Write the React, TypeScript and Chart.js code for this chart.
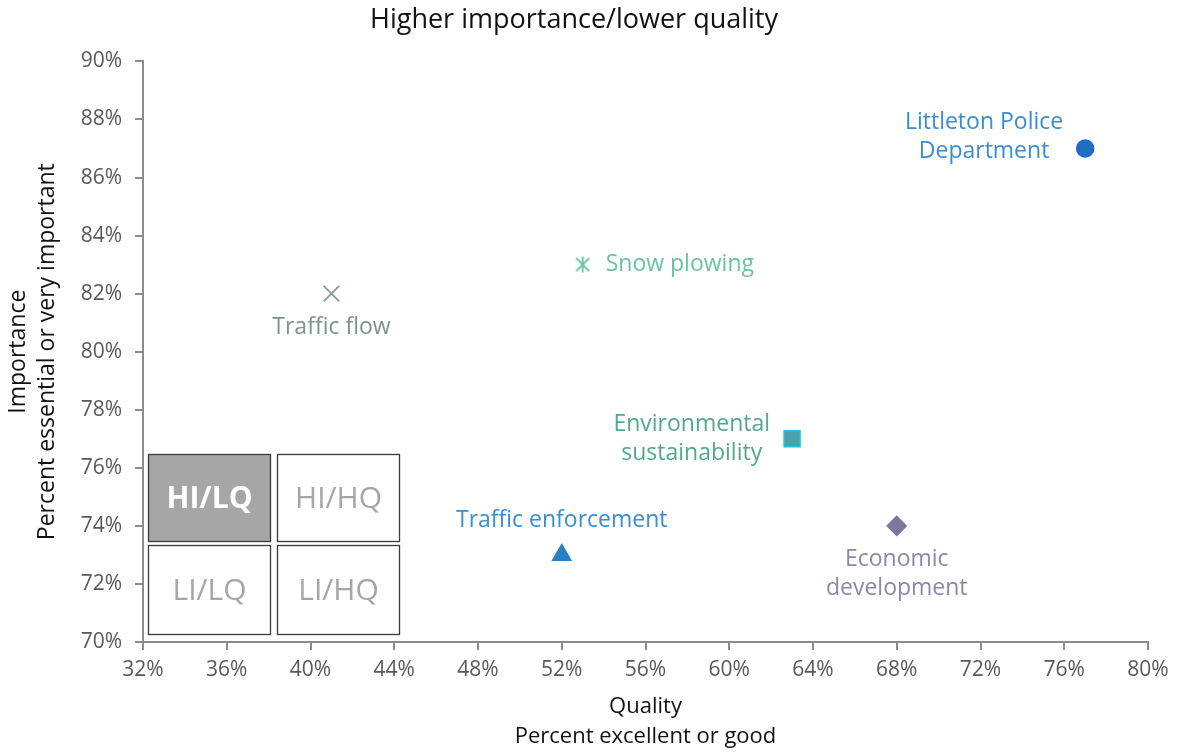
import React, { useEffect, useRef } from "react";
import { Chart, registerables } from "chart.js";

Chart.register(...registerables);

const services = [
  "Littleton Police Department",
  "Snow plowing",
  "Traffic flow",
  "Environmental sustainability",
  "Traffic enforcement",
  "Economic development",
];
const labelLines = [
  ["Littleton Police", "Department"],
  ["Snow plowing"],
  ["Traffic flow"],
  ["Environmental", "sustainability"],
  ["Traffic enforcement"],
  ["Economic", "development"],
];
const quality = [77, 53, 41, 63, 52, 68];
const importance = [87, 83, 82, 77, 73, 74];

const xTicksMin = 32;
const xTicksMax = 80;
const xStep = 4;
const yTicksMin = 70;
const yTicksMax = 90;
const yStep = 2;

const quadrantLabels = ["HI/LQ", "HI/HQ", "LI/LQ", "LI/HQ"];

// styles
const markerStyles = ["circle", "asterisk", "crossRot", "rect", "triangle", "rectRot"];
const markerRadius = [8.5, 9, 11, 11.3, 10.5, 9.5];
const fillColors = ["#1F6EC0", "#6CC3A2", "#8A9C9C", "#4DA1A9", "#2A7FC5", "#7B789E"];
const strokeColors = ["#1A64E6", "#6CC3A2", "#8A9C9C", "#22C2DA", "#2A7FC5", "#7B789E"];
const labelColors = ["#3A8ED0", "#6CC3A2", "#7D9393", "#52A88A", "#3A8ED0", "#8C88AA"];
const labelPlacement = ["left", "right", "below", "left", "above", "below"];
const labelDy = [-12, 0, 0, 0, 0, 0];

const FONT = "'Open Sans', 'DejaVu Sans', sans-serif";

function makeAsterisk(color: string): HTMLCanvasElement {
  const c = document.createElement("canvas");
  c.width = 20;
  c.height = 20;
  const g = c.getContext("2d")!;
  g.strokeStyle = color;
  g.lineWidth = 1.8;
  g.beginPath();
  g.moveTo(10, 2);
  g.lineTo(10, 18);
  g.moveTo(3.5, 3.5);
  g.lineTo(16.5, 16.5);
  g.moveTo(16.5, 3.5);
  g.lineTo(3.5, 16.5);
  g.stroke();
  return c;
}

const labelPlugin = {
  id: "pointLabels",
  afterDatasetsDraw(chart: any) {
    const ctx = chart.ctx;
    ctx.save();
    ctx.font = `23px ${FONT}`;
    ctx.textBaseline = "middle";
    const lh = 29;
    chart.data.datasets.forEach((ds: any, i: number) => {
      const meta = chart.getDatasetMeta(i);
      const pt = meta.data[0];
      if (!pt) return;
      const px = pt.x;
      const py = pt.y + labelDy[i];
      const lines = labelLines[i];
      ctx.fillStyle = labelColors[i];
      const widths = lines.map((l: string) => ctx.measureText(l).width);
      const maxW = Math.max(...widths);
      const place = labelPlacement[i];
      lines.forEach((line: string, k: number) => {
        let x = px;
        let y = py;
        if (place === "left") {
          ctx.textAlign = "center";
          x = px - 22 - maxW / 2;
          y = py - ((lines.length - 1) * lh) / 2 + k * lh;
        } else if (place === "right") {
          ctx.textAlign = "left";
          x = px + 23;
          y = py - ((lines.length - 1) * lh) / 2 + k * lh;
        } else if (place === "above") {
          ctx.textAlign = "center";
          y = py - 34 - (lines.length - 1 - k) * lh;
        } else {
          ctx.textAlign = "center";
          y = py + 34 + k * lh;
        }
        ctx.fillText(line, x, y);
      });
    });
    ctx.restore();
  },
};

const quadrantPlugin = {
  id: "quadrantKey",
  afterDraw(chart: any) {
    const { ctx, chartArea } = chart;
    const left = chartArea.left + 5;
    const bottom = chartArea.bottom - 7;
    const w = 123;
    const gap = 6;
    const hTop = 88;
    const hBot = 90;
    const vgap = 3;
    const boxes = [
      { x: left, y: bottom - hBot - vgap - hTop, h: hTop },
      { x: left + w + gap, y: bottom - hBot - vgap - hTop, h: hTop },
      { x: left, y: bottom - hBot, h: hBot },
      { x: left + w + gap, y: bottom - hBot, h: hBot },
    ];
    ctx.save();
    boxes.forEach((b, i) => {
      ctx.fillStyle = i === 0 ? "#A6A6A6" : "#FFFFFF";
      ctx.fillRect(b.x, b.y, w, b.h);
      ctx.strokeStyle = "#3A3A3A";
      ctx.lineWidth = 1.3;
      ctx.strokeRect(b.x + 0.5, b.y + 0.5, w - 1, b.h - 1);
      ctx.fillStyle = i === 0 ? "#FFFFFF" : "#A6A6A6";
      ctx.font = `${i === 0 ? "bold " : ""}30px ${FONT}`;
      ctx.textAlign = "center";
      ctx.textBaseline = "middle";
      ctx.fillText(quadrantLabels[i], b.x + w / 2, b.y + b.h / 2 + 1);
    });
    ctx.restore();
  },
};

export default function App() {
  const ref = useRef<HTMLCanvasElement | null>(null);

  useEffect(() => {
    if (!ref.current) return;
    const datasets = services.map((name, i) => ({
      label: name,
      data: [{ x: quality[i], y: importance[i] }],
      pointStyle: markerStyles[i] === "asterisk" ? makeAsterisk(fillColors[i]) : markerStyles[i],
      pointRadius: markerRadius[i],
      pointHoverRadius: markerRadius[i],
      backgroundColor: fillColors[i],
      borderColor: strokeColors[i],
      pointBorderWidth: markerStyles[i] === "crossRot" ? 1.8 : 1.5,
      showLine: false,
    }));
    const chart = new Chart(ref.current, {
      type: "scatter",
      data: { datasets },
      options: {
        animation: false,
        responsive: true,
        maintainAspectRatio: false,
        layout: { padding: { left: 0, right: 30, top: 0, bottom: 0 } },
        plugins: {
          legend: { display: false },
          tooltip: { enabled: false },
          title: {
            display: true,
            text: "Higher importance/lower quality",
            color: "#111",
            font: { family: FONT, size: 27, weight: "normal" },
            padding: { top: 4, bottom: 25 },
          },
        },
        scales: {
          x: {
            type: "linear",
            min: xTicksMin,
            max: xTicksMax,
            afterFit: (s: any) => {
              s.height = 110;
            },
            ticks: {
              stepSize: xStep,
              color: "#595959",
              font: { family: FONT, size: 21 },
              padding: 7,
              maxRotation: 0,
              callback: (v: any) => `${v}%`,
            },
            grid: {
              display: true,
              drawOnChartArea: false,
              drawTicks: true,
              tickLength: 8,
              color: "#8C8C8C",
              lineWidth: 2,
            },
            border: { color: "#8C8C8C", width: 2 },
            title: {
              display: true,
              text: ["Quality", "Percent excellent or good"],
              color: "#111",
              font: { family: FONT, size: 22, lineHeight: 1.36 },
              padding: { top: 0, bottom: 0 },
            },
          },
          y: {
            type: "linear",
            min: yTicksMin,
            max: yTicksMax,
            afterFit: (s: any) => {
              s.width = 143;
            },
            ticks: {
              stepSize: yStep,
              color: "#595959",
              font: { family: FONT, size: 21 },
              padding: 13,
              callback: (v: any) => `${v}%`,
            },
            grid: {
              display: true,
              drawOnChartArea: false,
              drawTicks: true,
              tickLength: 8,
              color: "#8C8C8C",
              lineWidth: 2,
            },
            border: { color: "#8C8C8C", width: 2 },
            title: {
              display: true,
              text: ["Importance", "Percent essential or very important"],
              color: "#111",
              font: { family: FONT, size: 23, lineHeight: 1.25 },
              padding: { top: 4, bottom: 0 },
            },
          },
        },
      },
      plugins: [labelPlugin, quadrantPlugin],
    });
    return () => chart.destroy();
  }, []);

  return (
    <div style={{ position: "absolute", left: 0, top: 0, width: 1178, height: 752, background: "#fff" }}>
      <canvas ref={ref} />
    </div>
  );
}
